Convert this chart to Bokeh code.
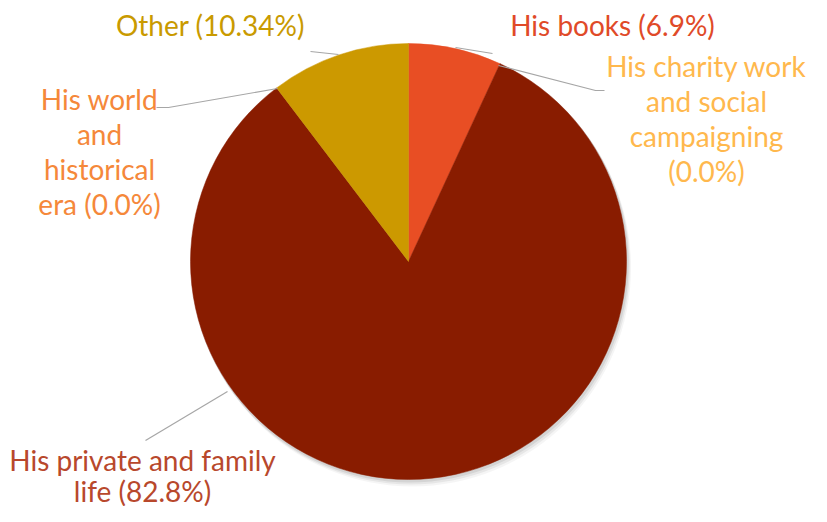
import math
from bokeh.plotting import figure
from bokeh.models import Range1d
from bokeh.core.properties import value
from bokeh.embed import file_html
from bokeh.resources import INLINE

# ---- data ----
categories = ["His books", "His charity work and social campaigning",
              "His private and family life", "His world and historical era", "Other"]
shares = [6.9, 0.0, 82.8, 0.0, 10.34]
label_texts = ["His books (6.9%)",
               "His charity work\nand social\ncampaigning\n(0.0%)",
               "His private and family\nlife (82.8%)",
               "His world\nand\nhistorical\nera (0.0%)",
               "Other (10.34%)"]
slice_colors = ["#E84E24", "#FFB347", "#891C00", "#F28A30", "#CC9900"]
label_colors = ["#E04A28", "#FFB84D", "#B8482C", "#F5883A", "#C99A00"]

# ---- layout (picture pixel coordinates; y converted) ----
W, H = 811, 506
def Y(yi):
    return H - yi

cx, cy, R = 408, 261, 218
label_pos = [(612, 24), (706, 65), (142, 459), (99, 98), (210, 24)]
line_hs = [35, 35, 31, 35, 35]
leaders = [
    [(455, 47), (492, 53)],
    [(498, 65), (595, 90), (604, 90)],
    [(227, 391), (145, 440)],
    [(277, 88), (168, 107), (156, 107)],
    [(338, 54), (310, 51)],
]

p = figure(width=W, height=H, output_backend="svg", toolbar_location=None,
           x_range=Range1d(0, W), y_range=Range1d(0, H),
           min_border=0, border_fill_color="white", background_fill_color="white")
p.axis.visible = False
p.grid.visible = False
p.outline_line_color = None

# soft shadow
for off, a in [(6, 0.04), (4, 0.06), (2, 0.08)]:
    p.circle(x=cx + off * 0.6, y=Y(cy) - off, radius=R + 1, fill_color="#000000",
             fill_alpha=a, line_color=None)

total = sum(shares)
cum = 0.0
for s, c in zip(shares, slice_colors):
    if s > 0:
        a0 = math.pi / 2 - cum / total * 2 * math.pi
        a1 = math.pi / 2 - (cum + s) / total * 2 * math.pi
        p.wedge(x=cx, y=Y(cy), radius=R, start_angle=a0, end_angle=a1,
                direction="clock", fill_color=c, line_color=c, line_width=0.5)
    cum += s

for pts in leaders:
    p.line(x=[q[0] for q in pts], y=[Y(q[1]) for q in pts],
           line_color="#A6A6A6", line_width=1.2)

for txt, col, (lx, ly), lh in zip(label_texts, label_colors, label_pos, line_hs):
    for i, ln in enumerate(txt.split("\n")):
        p.text(x=[lx], y=[Y(ly + i * lh)], text=[ln], text_color=col,
               text_font=value("Lato"), text_font_size="28px",
               text_align="center", text_baseline="middle")

open("out.html", "w").write(file_html(p, INLINE))
